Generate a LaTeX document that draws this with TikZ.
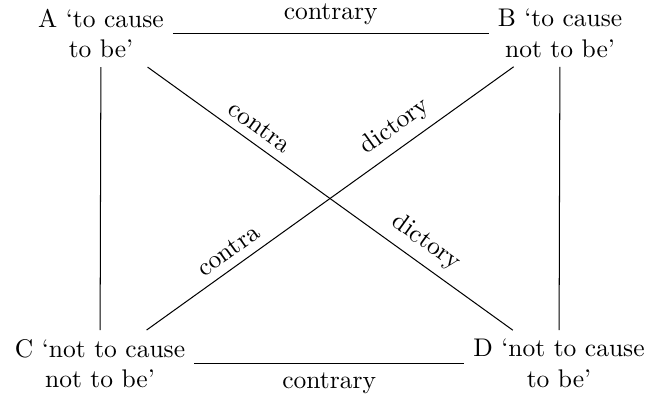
\documentclass[tikz,border=0pt]{standalone}
\usepackage{tikz}

\begin{document}
\begin{tikzpicture}[x=0.392pt,y=-0.392pt,
    corner/.style={align=center},
    side/.style={sloped,above}]
    \useasboundingbox (0,0) rectangle (651,394);

    % The four corners of the square
    \node[corner] (A) at (101,33.5) {A `to cause\\to be'};
    \node[corner] (B) at (560,33.5) {B `to cause\\not to be'};
    \node[corner] (C) at (100,363.5) {C `not to cause\\not to be'};
    \node[corner] (D) at (559,363.5) {D `not to cause\\to be'};

    % Contraries, top and bottom
    \draw (A) -- node[above] (top) {contrary} (B);
    \draw (C) -- node[below] (bot) {contrary} (D);

    % Sides
    \draw (A) -- (C);
    \draw (B) -- (D);

    % Contradictories along the diagonals
    \draw (A) -- node[side,pos=.28] (ad1) {contra} node[side,pos=.73] (ad2) {dictory} (D);
    \draw (C) -- node[side,pos=.25] (cb1) {contra} node[side,pos=.71] (cb2) {dictory} (B);
\end{tikzpicture}
\end{document}
